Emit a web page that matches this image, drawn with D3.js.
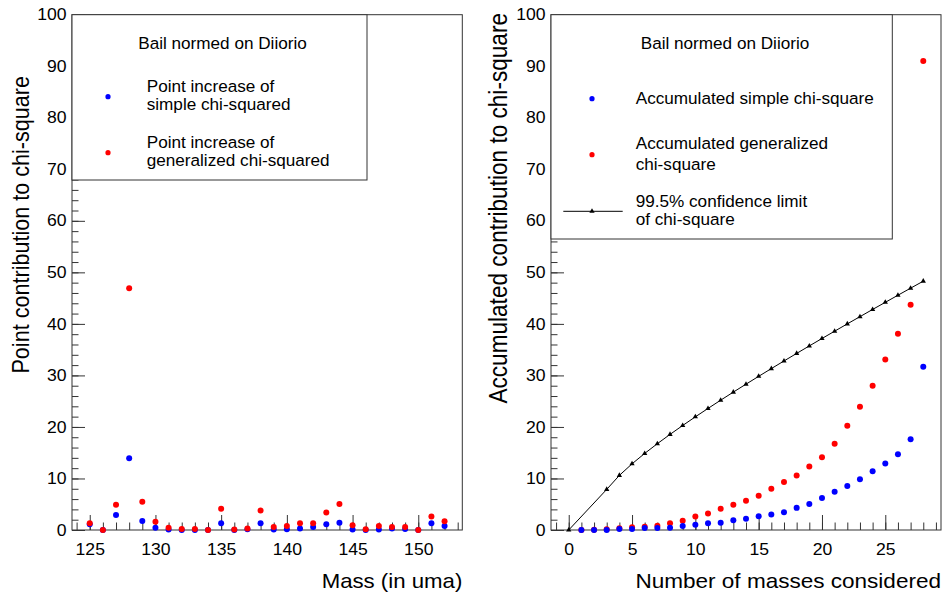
<!DOCTYPE html>
<html><head><meta charset="utf-8">
<script src="https://cdn.jsdelivr.net/npm/d3@7"></script>
<style>
body{margin:0;background:#fff}
text{font-family:"Liberation Sans",Arial,Helvetica,sans-serif;fill:#000}
</style>
</head><body><svg id="c" width="943" height="596"></svg>
<script>
// ---------- data ----------
const masses = [125,126,127,128,129,130,131,132,133,134,135,136,137,138,139,140,141,142,143,144,145,146,147,148,149,150,151,152];
const pointSimple = [1.1,0.0,2.9,13.9,1.75,0.45,0.1,0.0,0.0,0.0,1.3,0.0,0.15,1.3,0.1,0.15,0.3,0.6,1.1,1.4,0.1,0.0,0.1,0.3,0.2,0.0,1.3,0.8];
const pointGeneral = [1.3,0.0,4.9,46.9,5.5,1.6,0.45,0.2,0.2,0.0,4.1,0.1,0.3,3.8,0.6,0.8,1.3,1.3,3.4,5.05,0.9,0.15,0.8,0.6,0.6,0.0,2.6,1.7];

const nConsidered = [1,2,3,4,5,6,7,8,9,10,11,12,13,14,15,16,17,18,19,20,21,22,23,24,25,26,27,28];
const accSimple = [0,0,0,0.2,0.2,0.4,0.4,0.45,0.8,1.0,1.3,1.4,1.9,2.2,2.65,3.0,3.45,4.3,5.05,6.2,7.4,8.55,9.85,11.4,12.9,14.7,17.6,31.7];
const accGeneral = [0,0.05,0.13,0.32,0.52,0.65,0.84,1.3,1.8,2.6,3.2,4.1,4.9,5.7,6.65,8.0,9.3,10.6,12.3,14.1,16.75,20.25,23.9,28.0,33.1,38.1,43.7,91.0];

const limitN = [0,3,4,5,6,7,8,9,10,11,12,13,14,15,16,17,18,19,20,21,22,23,24,25,26,27,28];
const limitChi2 = [0,7.88,10.6,12.84,14.86,16.75,18.55,20.28,21.96,23.59,25.19,26.76,28.3,29.82,31.32,32.8,34.27,35.72,37.16,38.58,40.0,41.4,42.8,44.18,45.56,46.93,48.29];

const yTicks = [0,10,20,30,40,50,60,70,80,90,100];
const leftXTicks = [125,130,135,140,145,150];
const rightXTicks = [0,5,10,15,20,25];

const legendTitle = "Bail normed on Diiorio";
const leftLabels = [["Point increase of","simple chi-squared"],["Point increase of","generalized chi-squared"]];
const rightLabels = [["Accumulated simple chi-square"],["Accumulated generalized","chi-square"],["99.5% confidence limit","of chi-square"]];

// ---------- drawing ----------
const svg = d3.select("#c");
const SX = 1.1;         // horizontal stretch of the reference text
const BLUE = "#0000ff", RED = "#ff0000", AX = "#333";
const yTop = 14.7, yBot = 530;

function txt(g, x, y, s, size, anchor) {
  return g.append("text")
    .attr("transform", `translate(${x},${y}) scale(${SX},1)`)
    .attr("text-anchor", anchor).attr("font-size", size).text(s);
}

function panel(cfg) {
  const x = d3.scaleLinear(cfg.xDomain, [cfg.left, cfg.right]);
  const y = d3.scaleLinear([0, 100], [yBot, yTop]);
  const g = svg.append("g");

  g.append("rect").attr("x", cfg.left).attr("y", yTop)
    .attr("width", cfg.right - cfg.left).attr("height", yBot - yTop)
    .attr("fill", "none").attr("stroke", AX).attr("stroke-width", 1);

  const lo = Math.ceil(cfg.xDomain[0]), hi = Math.floor(cfg.xDomain[1]);
  const xm = g.append("g").attr("transform", `translate(0,${yBot})`)
    .call(d3.axisBottom(x).tickValues(d3.range(lo, hi + 1)).tickSize(-7.5).tickFormat(""));
  const xM = g.append("g").attr("transform", `translate(0,${yBot})`)
    .call(d3.axisBottom(x).tickValues(cfg.xTicks).tickSize(-15).tickPadding(13.5));
  xM.selectAll("text").attr("transform", `scale(${SX},1)`);

  const ym = g.append("g").attr("transform", `translate(${cfg.left},0)`)
    .call(d3.axisLeft(y).tickValues(d3.range(0, 101, 2)).tickSize(-6.5).tickFormat(""));
  const yM = g.append("g").attr("transform", `translate(${cfg.left},0)`)
    .call(d3.axisLeft(y).tickValues(yTicks).tickSize(-13).tickPadding(5));
  yM.selectAll("text").attr("transform", `scale(${SX},1)`);

  [xm, xM, ym, yM].forEach(a => {
    a.select(".domain").remove();
    a.selectAll("line").attr("stroke", AX);
    a.selectAll("text").attr("font-size", 16).attr("font-family", null).attr("fill", "#000");
  });

  txt(g, cfg.right, 587.5, cfg.xTitle, cfg.xTitleSize, "end");
  g.append("text")
    .attr("transform", `translate(${cfg.yTitleX},${cfg.yTitleTop}) rotate(-90) scale(1,${SX})`)
    .attr("text-anchor", "end").attr("font-size", cfg.yTitleSize).text(cfg.yTitle);

  return {g, x, y};
}

// ----- left panel -----
const L = panel({
  left: 72, right: 462.3, xDomain: [123.65, 153.35], xTicks: leftXTicks,
  xTitle: "Mass (in uma)", xTitleSize: 20.2, yTitle: "Point contribution to chi-square",
  yTitleX: 28.5, yTitleTop: 76, yTitleSize: 21.6
});
L.g.append("g").selectAll("circle").data(masses).join("circle")
  .attr("cx", (d) => L.x(d)).attr("cy", (d, i) => L.y(pointSimple[i])).attr("r", 3).attr("fill", BLUE);
L.g.append("g").selectAll("circle").data(masses).join("circle")
  .attr("cx", (d) => L.x(d)).attr("cy", (d, i) => L.y(pointGeneral[i])).attr("r", 3).attr("fill", RED);

{
  const lg = svg.append("g");
  lg.append("rect").attr("x", 72).attr("y", yTop).attr("width", 367 - 72).attr("height", 180 - yTop)
    .attr("fill", "#fff").attr("stroke", AX);
  txt(lg, 222.5, 48.5, legendTitle, 15.6, "middle");
  const rows = [{c: BLUE, my: 96.7, b: [91.7, 110]}, {c: RED, my: 152.7, b: [147.7, 165.7]}];
  rows.forEach((r, i) => {
    lg.append("circle").attr("cx", 108).attr("cy", r.my).attr("r", 2.6).attr("fill", r.c);
    leftLabels[i].forEach((s, k) => txt(lg, 146.7, r.b[k], s, 15.6, "start"));
  });
}

// ----- right panel -----
const R = panel({
  left: 551, right: 941, xDomain: [-1.4, 29.4], xTicks: rightXTicks,
  xTitle: "Number of masses considered", xTitleSize: 20.5, yTitle: "Accumulated contribution to chi-square",
  yTitleX: 507, yTitleTop: 13, yTitleSize: 22.6
});
const line = d3.line().x((d, i) => R.x(limitN[i])).y((d) => R.y(d));
R.g.append("path").datum(limitChi2).attr("d", line).attr("fill", "none").attr("stroke", "#000").attr("stroke-width", 1);
R.g.append("g").selectAll("path").data(limitChi2).join("path")
  .attr("transform", (d, i) => `translate(${R.x(limitN[i])},${R.y(d)})`)
  .attr("d", d3.symbol(d3.symbolTriangle, 12)).attr("fill", "#000");
R.g.append("g").selectAll("circle").data(nConsidered).join("circle")
  .attr("cx", (d) => R.x(d)).attr("cy", (d, i) => R.y(accGeneral[i])).attr("r", 3).attr("fill", RED);
R.g.append("g").selectAll("circle").data(nConsidered).join("circle")
  .attr("cx", (d) => R.x(d)).attr("cy", (d, i) => R.y(accSimple[i])).attr("r", 3).attr("fill", BLUE);

{
  const lg = svg.append("g");
  lg.append("rect").attr("x", 551).attr("y", yTop).attr("width", 892.3 - 551).attr("height", 239 - yTop)
    .attr("fill", "#fff").attr("stroke", AX);
  txt(lg, 725, 49.3, legendTitle, 15.6, "middle");
  lg.append("circle").attr("cx", 592).attr("cy", 98.7).attr("r", 2.6).attr("fill", BLUE);
  txt(lg, 635.7, 103.8, rightLabels[0][0], 15.6, "start");
  lg.append("circle").attr("cx", 592).attr("cy", 154.7).attr("r", 2.6).attr("fill", RED);
  txt(lg, 635.7, 149.3, rightLabels[1][0], 15.6, "start");
  txt(lg, 635.7, 169.5, rightLabels[1][1], 15.6, "start");
  lg.append("line").attr("x1", 563.3).attr("x2", 622.7).attr("y1", 211.3).attr("y2", 211.3).attr("stroke", "#000");
  lg.append("path").attr("transform", "translate(592,211.3)").attr("d", d3.symbol(d3.symbolTriangle, 12)).attr("fill", "#000");
  txt(lg, 635.7, 206.7, rightLabels[2][0], 15.6, "start");
  txt(lg, 635.7, 225, rightLabels[2][1], 15.6, "start");
}
</script>
</body></html>
